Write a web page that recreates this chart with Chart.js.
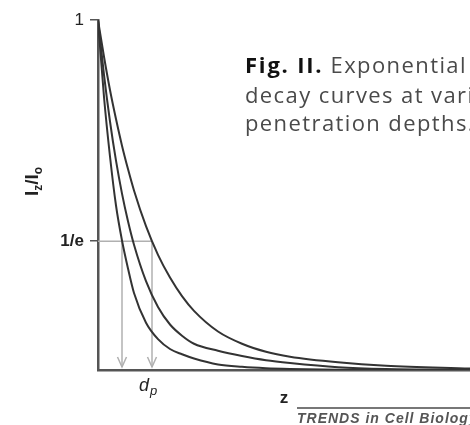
<!DOCTYPE html>
<html>
<head>
<meta charset="utf-8">
<script src="https://cdn.jsdelivr.net/npm/chart.js@4.4.1/dist/chart.umd.min.js"></script>
<style>
  html, body { margin: 0; padding: 0; background: #fff; }
  #wrap { position: relative; width: 470px; height: 425px; overflow: hidden; }
  canvas { position: absolute; left: 0; top: 0; }
  .cap { position: absolute; left: 245px; white-space: nowrap; font-family: "Open Sans", sans-serif;
         font-size: 22px; letter-spacing: 1.4px; color: #4a4a4a; line-height: 22px; }
  .cap b { color: #111; font-weight: 700; letter-spacing: 1.8px; }
  #trends { position: absolute; left: 297px; top: 407px; width: 300px; border-top: 2px solid #777;
            white-space: nowrap; font-family: "Liberation Sans", Arial, sans-serif; font-style: italic;
            font-weight: 700; font-size: 14px; letter-spacing: 1px; color: #555; padding-top: 2px; line-height: 14px; }
</style>
</head>
<body>
<div id="wrap">
  <canvas id="c" width="470" height="425"></canvas>
  <div class="cap" style="top:53px"><b>Fig. II.</b> Exponential</div>
  <div class="cap" style="top:83px">decay curves at various</div>
  <div class="cap" style="top:111px">penetration depths.</div>
  <div id="trends">TRENDS in Cell Biology</div>
</div>
<script>
// depth positions z (arbitrary units)
const zPositions = [0, 0.25, 0.5, 0.75, 1, 1.25, 1.5, 2, 2.5, 3, 3.5, 4, 5, 6, 7, 8, 10, 12, 15.5];
// intensity Iz/Io
const curveShallow = [1, 0.78, 0.61, 0.47, 0.37, 0.29, 0.22, 0.135, 0.088, 0.06, 0.045, 0.033, 0.016, 0.009, 0.005, 0.003, 0.001, 0, 0];
const curveMedium  = [1, 0.843, 0.71, 0.598, 0.504, 0.425, 0.358, 0.254, 0.18, 0.13, 0.098, 0.075, 0.055, 0.04, 0.028, 0.02, 0.008, 0.003, 0.001];
const curveDeep    = [1, 0.895, 0.80, 0.717, 0.641, 0.574, 0.513, 0.411, 0.329, 0.264, 0.211, 0.169, 0.11, 0.075, 0.052, 0.038, 0.022, 0.012, 0.004];
// y ticks
const yTickValues = [1, 0.3679];
const yTickLabels = ['1', '1/e'];
// penetration depths marked by arrows (z where curves reach 1/e)
const dpMarks = [1, 2.25];
const oneOverE = 0.3679;

function toPoints(ys) { return zPositions.map((z, i) => ({ x: z, y: ys[i] })); }

const lineStyle = { borderColor: '#333', borderWidth: 2, pointRadius: 0, fill: false,
                    cubicInterpolationMode: 'monotone' };

const guides = {
  id: 'guides',
  beforeDatasetsDraw(chart) {
    const { ctx, scales: { x, y } } = chart;
    const yE = y.getPixelForValue(oneOverE);
    const y0 = y.getPixelForValue(0);
    const xL = x.getPixelForValue(0);
    const xMax = x.getPixelForValue(Math.max(...dpMarks));
    ctx.save();
    ctx.strokeStyle = '#b0b0b0';
    ctx.lineWidth = 1.5;
    ctx.beginPath();
    ctx.moveTo(xL, yE); ctx.lineTo(xMax, yE);
    ctx.stroke();
    dpMarks.forEach(d => {
      const px = x.getPixelForValue(d);
      ctx.beginPath();
      ctx.moveTo(px, yE); ctx.lineTo(px, y0 - 3);
      ctx.stroke();
      ctx.beginPath();
      ctx.moveTo(px - 4.5, y0 - 13); ctx.lineTo(px, y0 - 3); ctx.lineTo(px + 4.5, y0 - 13);
      ctx.stroke();
    });
    ctx.restore();
  },
  afterDraw(chart) {
    const { ctx, scales: { x, y } } = chart;
    ctx.save();
    ctx.fillStyle = '#222';
    // y title Iz/Io rotated
    ctx.translate(38, 196);
    ctx.rotate(-Math.PI / 2);
    ctx.textBaseline = 'alphabetic';
    ctx.textAlign = 'left';
    let cx = 0;
    const big = 'bold 19px "Liberation Sans", Arial, sans-serif';
    const small = 'bold 12px "Liberation Sans", Arial, sans-serif';
    const parts = [['I', big, 0], ['z', small, 4], ['/I', big, 0], ['o', small, 4]];
    parts.forEach(([t, f, dy]) => {
      ctx.font = f; ctx.fillText(t, cx, dy); cx += ctx.measureText(t).width;
    });
    ctx.restore();

    ctx.save();
    ctx.fillStyle = '#222';
    // z label
    ctx.font = 'bold 17px "Liberation Sans", Arial, sans-serif';
    ctx.textAlign = 'center';
    ctx.textBaseline = 'alphabetic';
    ctx.fillText('z', (x.left + x.right) / 2, 403);
    // d_p label
    const px = x.getPixelForValue(dpMarks[1]);
    ctx.textAlign = 'left';
    ctx.font = 'italic 18px "Liberation Sans", Arial, sans-serif';
    ctx.fillText('d', px - 13, 391);
    ctx.font = 'italic 13px "Liberation Sans", Arial, sans-serif';
    ctx.fillText('p', px - 2, 395);
    ctx.restore();
  }
};

new Chart(document.getElementById('c'), {
  type: 'line',
  data: {
    datasets: [
      { ...lineStyle, data: toPoints(curveShallow) },
      { ...lineStyle, data: toPoints(curveMedium) },
      { ...lineStyle, data: toPoints(curveDeep) }
    ]
  },
  options: {
    responsive: false,
    animation: false,
    events: [],
    layout: { padding: { top: 20, right: 0, left: 0, bottom: 0 } },
    plugins: { legend: { display: false }, tooltip: { enabled: false } },
    scales: {
      x: {
        type: 'linear', min: 0, max: 15.5,
        grid: { display: false },
        border: { display: true, color: '#555', width: 2.5 },
        ticks: { display: false },
        afterFit(s) { s.height = 55; }
      },
      y: {
        type: 'linear', min: 0, max: 1,
        afterBuildTicks(s) { s.ticks = yTickValues.map(v => ({ value: v })); },
        grid: { drawOnChartArea: false, drawTicks: true, tickLength: 8, color: '#555', lineWidth: 1.5 },
        border: { display: true, color: '#555', width: 2.5 },
        ticks: {
          padding: 6, color: '#222',
          callback: (v, i) => yTickLabels[i],
          font: (c) => ({ family: '"Liberation Sans", Arial, sans-serif', size: 17,
                          weight: c.index === 1 ? 'bold' : 'normal' })
        },
        afterFit(s) { s.width = 98; }
      }
    }
  },
  plugins: [guides]
});
</script>
</body>
</html>
